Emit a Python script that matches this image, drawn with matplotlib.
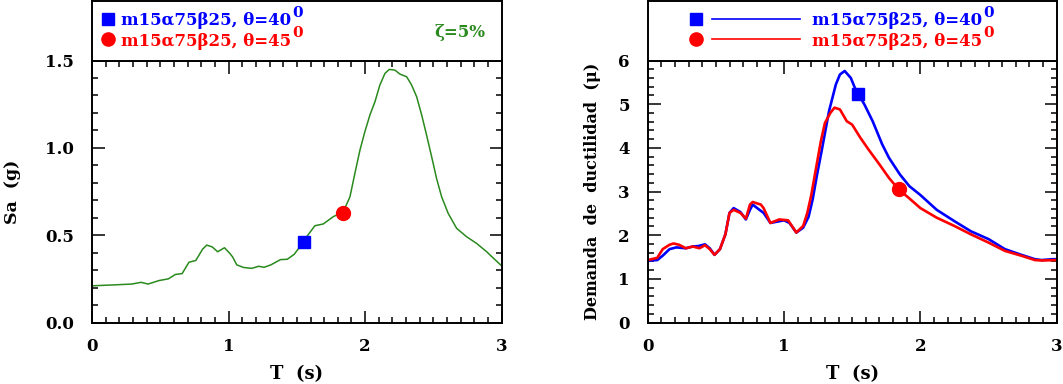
import numpy as np
import matplotlib
matplotlib.use("Agg")
import matplotlib.pyplot as plt
from matplotlib.ticker import MultipleLocator, FormatStrFormatter

# ── Data ──────────────────────────────────────────────────────────────────────
T_SA = [0.00, 0.15, 0.29, 0.36, 0.41, 0.49, 0.56, 0.61, 0.66, 0.71, 0.76, 0.81,
        0.84, 0.88, 0.92, 0.97, 1.01, 1.03, 1.06, 1.11, 1.17, 1.22, 1.26, 1.31,
        1.38, 1.43, 1.48, 1.523, 1.572, 1.632, 1.693, 1.767, 1.84, 1.889, 1.925,
        1.962, 1.998, 2.035, 2.072, 2.108, 2.145, 2.177, 2.218, 2.255, 2.304,
        2.34, 2.377, 2.414, 2.45, 2.487, 2.523, 2.56, 2.608, 2.67, 2.743, 2.816,
        2.89, 2.926, 3.00]
SA = [0.21, 0.215, 0.22, 0.23, 0.22, 0.24, 0.25, 0.275, 0.28, 0.345, 0.355, 0.42,
      0.443, 0.433, 0.405, 0.428, 0.395, 0.375, 0.33, 0.315, 0.31, 0.322, 0.316,
      0.33, 0.36, 0.362, 0.39, 0.434, 0.491, 0.554, 0.564, 0.606, 0.634, 0.72,
      0.854, 0.987, 1.092, 1.188, 1.264, 1.36, 1.426, 1.449, 1.445, 1.422, 1.407,
      1.36, 1.293, 1.188, 1.073, 0.949, 0.825, 0.72, 0.625, 0.539, 0.491, 0.453,
      0.405, 0.378, 0.324]

T_MU40 = [0.00, 0.07, 0.11, 0.16, 0.21, 0.28, 0.33, 0.37, 0.42, 0.455, 0.49, 0.53,
          0.57, 0.60, 0.63, 0.68, 0.72, 0.75, 0.77, 0.82, 0.85, 0.90, 0.95, 1.00,
          1.04, 1.09, 1.14, 1.18, 1.21, 1.24, 1.28, 1.33, 1.38, 1.41, 1.445, 1.49,
          1.52, 1.59, 1.65, 1.72, 1.77, 1.85, 1.92, 2.00, 2.12, 2.25, 2.37, 2.50,
          2.62, 2.74, 2.84, 2.89, 2.97, 3.00]
MU40 = [1.42, 1.43, 1.53, 1.68, 1.72, 1.70, 1.74, 1.75, 1.79, 1.70, 1.55, 1.68,
        2.02, 2.51, 2.62, 2.53, 2.36, 2.58, 2.70, 2.58, 2.51, 2.28, 2.31, 2.34,
        2.28, 2.06, 2.17, 2.42, 2.82, 3.35, 4.00, 4.84, 5.45, 5.68, 5.76, 5.60,
        5.37, 4.99, 4.61, 4.08, 3.77, 3.39, 3.12, 2.92, 2.58, 2.32, 2.09, 1.91,
        1.68, 1.55, 1.45, 1.43, 1.45, 1.45]

T_MU45 = [0.00, 0.07, 0.11, 0.16, 0.19, 0.23, 0.28, 0.33, 0.38, 0.42, 0.455, 0.49,
          0.53, 0.57, 0.60, 0.63, 0.68, 0.72, 0.75, 0.77, 0.83, 0.85, 0.90, 0.965,
          1.03, 1.09, 1.14, 1.17, 1.20, 1.23, 1.27, 1.30, 1.34, 1.37, 1.41, 1.46,
          1.50, 1.56, 1.62, 1.70, 1.77, 1.84, 1.92, 2.00, 2.12, 2.25, 2.37, 2.50,
          2.62, 2.74, 2.84, 2.89, 3.00]
MU45 = [1.43, 1.48, 1.68, 1.78, 1.81, 1.78, 1.70, 1.74, 1.70, 1.77, 1.68, 1.55,
        1.68, 2.02, 2.51, 2.58, 2.51, 2.38, 2.70, 2.76, 2.70, 2.62, 2.28, 2.36,
        2.34, 2.06, 2.21, 2.50, 2.92, 3.45, 4.15, 4.57, 4.80, 4.92, 4.88, 4.61,
        4.53, 4.23, 3.96, 3.62, 3.31, 3.05, 2.84, 2.62, 2.40, 2.21, 2.02, 1.83,
        1.64, 1.53, 1.43, 1.42, 1.43]

# marker points (period, value)
SQ_SA = (1.55, 0.46)
CI_SA = (1.84, 0.628)
SQ_MU = (1.545, 5.24)
CI_MU = (1.84, 3.06)

LBL40 = "m15α75β25, θ=40"
LBL45 = "m15α75β25, θ=45"
SUP = "0"

# ── Style ─────────────────────────────────────────────────────────────────────
plt.rcParams["font.family"] = "DejaVu Serif"
plt.rcParams["font.weight"] = "bold"

C_BLUE  = "#0000FF"
C_RED   = "#FF0000"
C_GREEN = "#2A8A1E"
FS_TICK = 12
FS_LEG  = 12
FS_LAB  = 13

W, H = 1063, 384
fig = plt.figure(figsize=(W / 100, H / 100), dpi=100)

def px_axes(x0, x1, y_top, y_bot):
    return fig.add_axes([x0 / W, 1 - y_bot / H, (x1 - x0) / W, (y_bot - y_top) / H])

def style_main(ax, ymaj, ymin, yfmt):
    for sp in ax.spines.values():
        sp.set_linewidth(1.4)
    ax.xaxis.set_major_locator(MultipleLocator(1))
    ax.xaxis.set_minor_locator(MultipleLocator(0.1))
    ax.yaxis.set_major_locator(MultipleLocator(ymaj))
    ax.yaxis.set_minor_locator(MultipleLocator(ymin))
    ax.yaxis.set_major_formatter(FormatStrFormatter(yfmt))
    ax.tick_params(which="both", direction="in", top=True, right=True,
                   width=1.1, labelsize=FS_TICK)
    ax.tick_params(which="major", length=9)
    ax.tick_params(which="minor", length=4.5)
    ax.tick_params(axis="x", which="both", pad=11)
    ax.tick_params(axis="y", which="both", pad=13)

def style_box(ax):
    for sp in ax.spines.values():
        sp.set_linewidth(1.4)
    ax.set_xticks([]); ax.set_yticks([])
    ax.set_xlim(0, 1); ax.set_ylim(0, 1)

def legend_label(ax, x, y, label, color):
    t = ax.text(x, y, label, color=color, fontsize=FS_LEG, va="baseline")
    # degree written as a raised "0", as in the original figure
    ax.annotate(SUP, xy=(1, 0), xycoords=t, xytext=(0.5, 9),
                textcoords="offset points", color=color, fontsize=FS_LEG - 1,
                va="baseline", ha="left")

# ── Left panel: Sa ────────────────────────────────────────────────────────────
ax1 = px_axes(92, 501.7, 60.5, 322.5)
ax1b = px_axes(92, 501.7, 1, 60.5)
ax1.plot(T_SA, SA, color=C_GREEN, lw=1.1)
ax1.plot(*SQ_SA, marker="s", ms=9, color=C_BLUE, ls="none")
ax1.plot(*CI_SA, marker="o", ms=10, color=C_RED, ls="none")
ax1.set_xlim(0, 3); ax1.set_ylim(0, 1.5)
style_main(ax1, 0.5, 0.1, "%.1f")
ax1.text(0.5, -0.197, "T  (s)", transform=ax1.transAxes, ha="center", va="center",
         fontsize=FS_LAB)
ax1.text(-0.193, 0.5, "Sa  (g)", transform=ax1.transAxes, ha="center", va="center",
         rotation=90, fontsize=FS_LAB - 0.5)

style_box(ax1b)
ax1b.plot(0.039, 0.69, marker="s", ms=9, color=C_BLUE)
ax1b.plot(0.039, 0.363, marker="o", ms=9.5, color=C_RED)
legend_label(ax1b, 0.072, 0.592, LBL40, C_BLUE)
legend_label(ax1b, 0.072, 0.25, LBL45, C_RED)
ax1b.text(0.96, 0.392, "ζ=5%", color=C_GREEN, fontsize=FS_LEG, ha="right", va="baseline")

# ── Right panel: ductility demand ─────────────────────────────────────────────
ax2 = px_axes(647.7, 1056.7, 60.5, 322.5)
ax2b = px_axes(647.7, 1056.7, 1, 60.5)
ax2.plot(T_MU40, MU40, color=C_BLUE, lw=1.9)
ax2.plot(T_MU45, MU45, color=C_RED, lw=1.9)
ax2.plot(*SQ_MU, marker="s", ms=9, color=C_BLUE, ls="none")
ax2.plot(*CI_MU, marker="o", ms=10, color=C_RED, ls="none")
ax2.set_xlim(0, 3); ax2.set_ylim(0, 6)
style_main(ax2, 1, 0.2, "%d")
ax2.text(0.5, -0.197, "T  (s)", transform=ax2.transAxes, ha="center", va="center",
         fontsize=FS_LAB)
ax2.text(-0.136, 0.5, "Demanda  de  ductilidad  (μ)", transform=ax2.transAxes,
         ha="center", va="center", rotation=90, fontsize=11.5)

style_box(ax2b)
ax2b.plot(0.117, 0.69, marker="s", ms=9, color=C_BLUE)
ax2b.plot(0.117, 0.363, marker="o", ms=9.5, color=C_RED)
ax2b.plot([0.157, 0.373], [0.69, 0.69], color=C_BLUE, lw=1.2)
ax2b.plot([0.157, 0.373], [0.363, 0.363], color=C_RED, lw=1.2)
legend_label(ax2b, 0.402, 0.592, LBL40, C_BLUE)
legend_label(ax2b, 0.402, 0.25, LBL45, C_RED)

fig.savefig("out.png", dpi=100, facecolor="white")
